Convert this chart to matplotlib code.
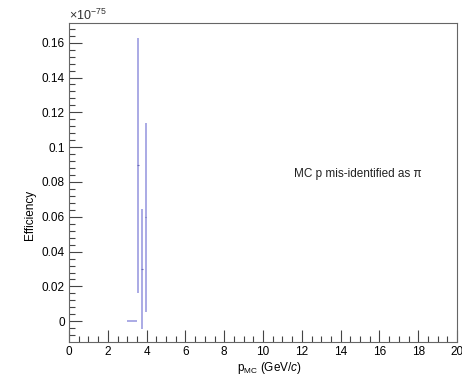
import matplotlib
matplotlib.use("Agg")
import matplotlib.pyplot as plt
from matplotlib.ticker import MultipleLocator, FixedFormatter, FixedLocator

plt.rcParams['font.family'] = ['Liberation Sans', 'DejaVu Sans']
plt.rcParams['mathtext.fontset'] = 'custom'
plt.rcParams['mathtext.rm'] = 'Liberation Sans'
plt.rcParams['mathtext.it'] = 'Liberation Sans:italic'

# datos (en unidades de 1e-75)
p_mc = [3.25, 3.55, 3.75, 3.95]
p_err = [0.25, 0.0, 0.0, 0.0]
eff = [0.0, 0.0895, 0.0299, 0.0597]
eff_err_low = [0.0, 0.0734, 0.0345, 0.0545]
eff_err_up = [0.0, 0.0730, 0.0344, 0.0543]

y_ticks = [0, 0.02, 0.04, 0.06, 0.08, 0.1, 0.12, 0.14, 0.16]
y_labels = ["0", "0.02", "0.04", "0.06", "0.08", "0.1", "0.12", "0.14", "0.16"]

fig = plt.figure(figsize=(4.62, 3.75), dpi=100)
ax = fig.add_axes([69 / 462, 1 - 342 / 375, (457 - 69) / 462, (342 - 23) / 375])

ax.errorbar(p_mc, eff, yerr=[eff_err_low, eff_err_up], xerr=p_err,
            fmt='none', ecolor='#9c9ce0', elinewidth=1.2, capsize=0)
# marcador central
ax.errorbar(p_mc[1:], eff[1:], xerr=0.04, fmt='none', ecolor='#6a6ab8',
            elinewidth=0.8, capsize=0)

ax.set_xlim(0, 20)
ax.set_ylim(-0.0119, 0.1713)

ax.xaxis.set_major_locator(MultipleLocator(2))
ax.xaxis.set_minor_locator(MultipleLocator(0.5))
ax.yaxis.set_major_locator(FixedLocator(y_ticks))
ax.yaxis.set_major_formatter(FixedFormatter(y_labels))
ax.yaxis.set_minor_locator(MultipleLocator(0.004))

ax.tick_params(which='both', direction='in', top=False, right=False,
               labelsize=8.5, color='#444444', pad=3)
ax.tick_params(which='major', length=9, width=0.8)
ax.tick_params(which='minor', length=4.5, width=0.8)
for s in ax.spines.values():
    s.set_color('#666666')
    s.set_linewidth(0.8)

ax.text(0.0, 1.0, r"$\times$10$^{-75}$", transform=ax.transAxes,
        fontsize=9, ha='left', va='bottom', color='#333333')

ax.set_ylabel("Efficiency", fontsize=8.5)
ax.yaxis.set_label_coords(-33 / 388, (342 - 215) / 319)

ax.text(0.60, -0.056, r"p$_{\mathrm{MC}}$ (GeV/$\mathit{c}$)", transform=ax.transAxes,
        fontsize=8.5, ha='right', va='top')

ax.text(14.9, 0.0845, "MC p mis-identified as π", fontsize=8.5,
        ha='center', va='center', color='#222222')

fig.savefig("out.png", dpi=100)
